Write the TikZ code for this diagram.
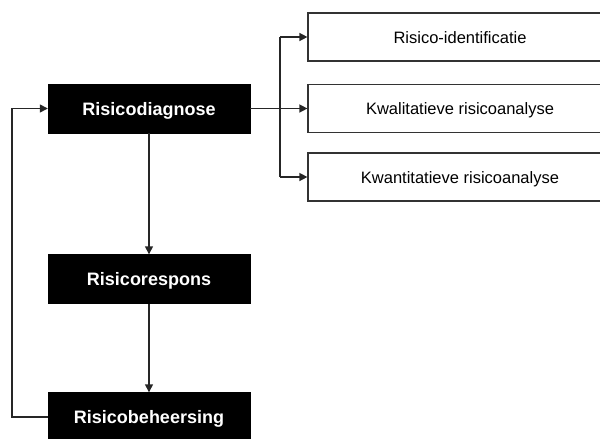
\documentclass[tikz,border=0pt]{standalone}
\usepackage{fontspec}
\setmainfont{Liberation Sans}
\usetikzlibrary{arrows.meta}
\begin{document}
\begin{tikzpicture}[x=1pt,y=-1pt,
  phase/.style={fill=black, draw=black, text=white, inner sep=0pt,
    minimum width=202pt, minimum height=49pt,
    text height=13pt, text depth=0pt,
    font=\bfseries\fontsize{18}{20}\selectfont},
  task/.style={fill=white, draw=black!80, line width=1.2pt, inner sep=0pt,
    minimum width=304pt, minimum height=48pt,
    text height=12pt, text depth=0pt,
    font=\fontsize{16.5}{18}\selectfont},
  link/.style={draw=black!85, line width=1.4pt,
    -{Triangle[length=8pt,width=8pt]}},
  wire/.style={draw=black!85, line width=1.4pt}]
\useasboundingbox (0,0) rectangle (600,439);
\clip (0,0) rectangle (600,439);

% main cycle
\node[phase] (diag) at (149,108.5) {Risicodiagnose};
\node[phase] (resp) at (149,279)   {Risicorespons};
\node[phase] (beh)  at (149,417)   {Risicobeheersing};

% diagnosis sub-steps
\node[task] (ident) at (460,37)    {Risico-identificatie};
\node[task] (kwal)  at (460,108.5) {Kwalitatieve risicoanalyse};
\node[task] (kwan)  at (460,177)   {Kwantitatieve risicoanalyse};

% vertical flow
\draw[link] (diag.south) -- (resp.north);
\draw[link] (resp.south) -- (beh.north);

% feedback loop
\coordinate (loopB) at (12,417);
\coordinate (loopT) at (12,108.5);
\draw[link] (beh.west) -- (loopB) -- (loopT) -- (diag.west);

% branch to sub-steps
\coordinate (fork) at (280,108.5);
\coordinate (forkT) at (280,37);
\coordinate (forkB) at (280,177);
\draw[wire] (diag.east) -- (fork);
\draw[wire] (forkT) -- (forkB);
\draw[link] (forkT) -- (ident.west);
\draw[link] (fork) -- (kwal.west);
\draw[link] (forkB) -- (kwan.west);
\end{tikzpicture}
\end{document}
